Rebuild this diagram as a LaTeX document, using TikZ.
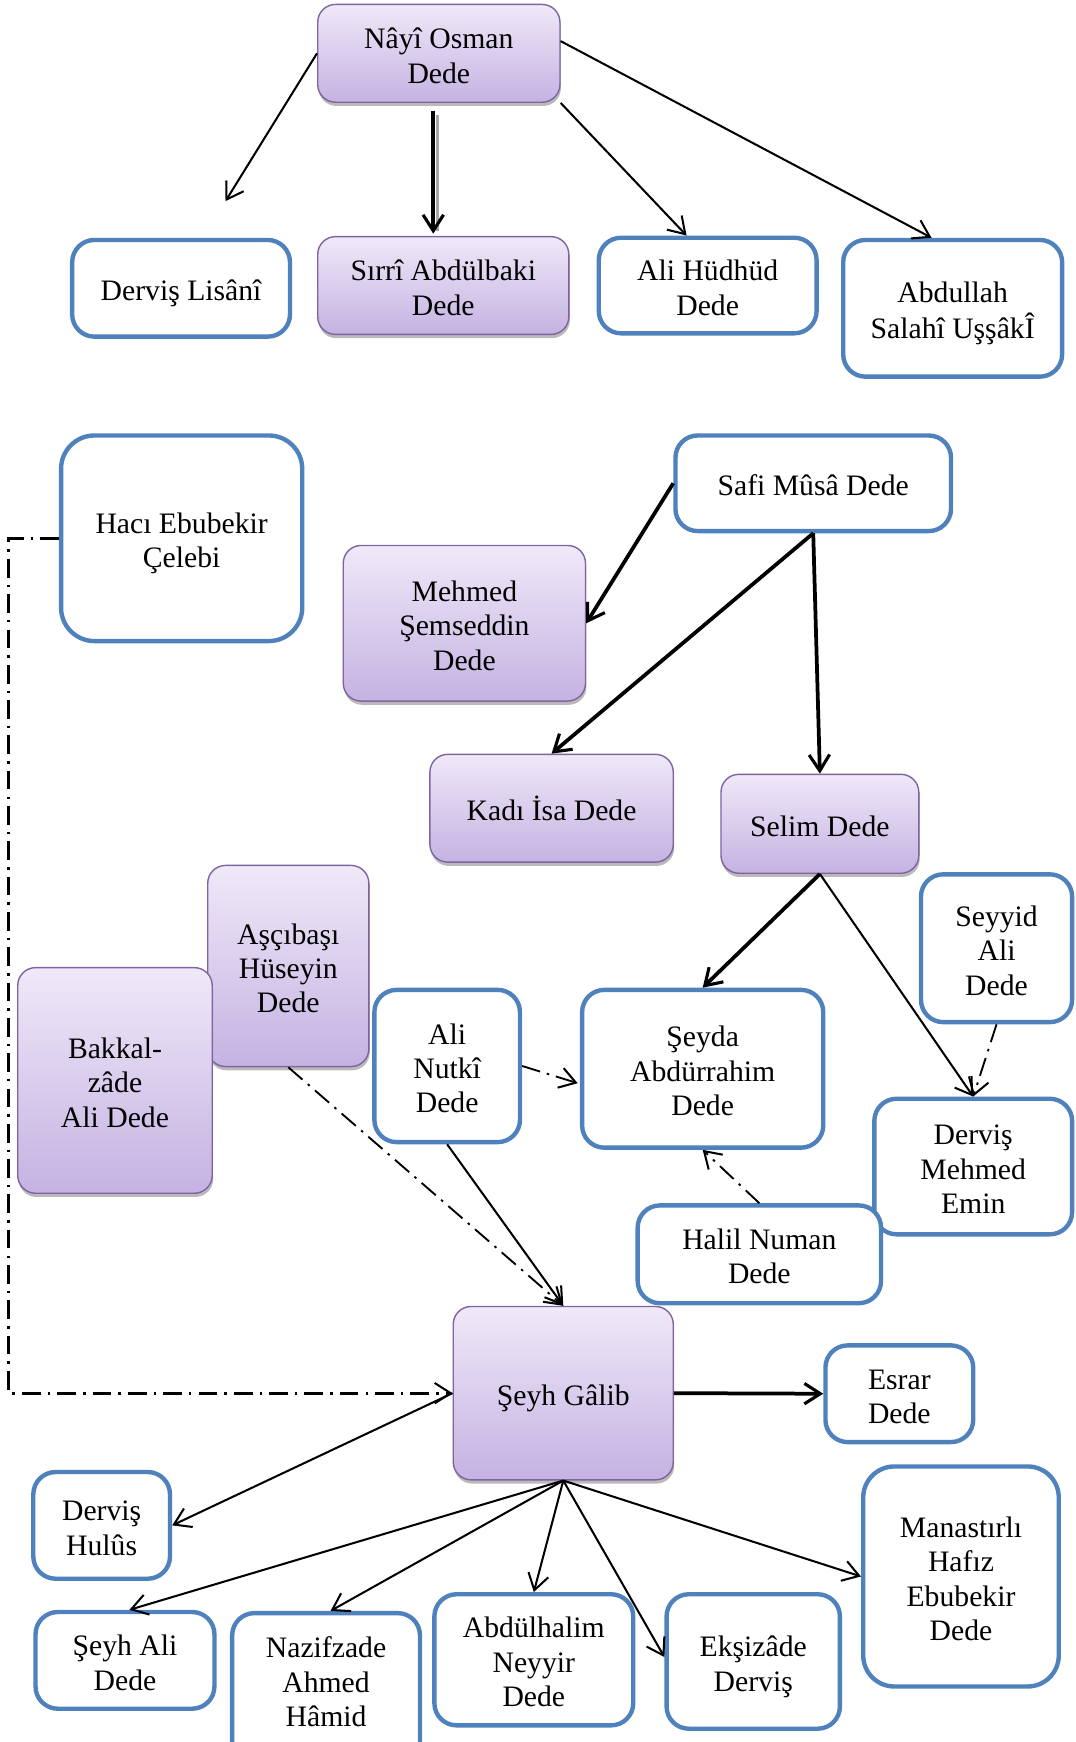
\documentclass[tikz,border=0pt]{standalone}
\usepackage{fontspec}
\setmainfont{Liberation Serif}
\usetikzlibrary{arrows.meta,calc,shadows}
\definecolor{bblue}{HTML}{4F81BD}
\definecolor{ptop}{HTML}{EFE9F8}
\definecolor{pbot}{HTML}{C5B2E2}
\definecolor{pline}{HTML}{8064A2}
\newcommand{\tx}[1]{\raisebox{-3.6pt}[\height][\depth]{\begin{tabular}{@{}c@{}}#1\end{tabular}}}
\tikzset{
  txt/.style={font=\fontsize{19}{22}\selectfont,inner sep=0pt},
  bbox/.style={txt,draw=bblue,line width=2.8pt,rounded corners=0.5cm,fill=white},
  pbox/.style={txt,draw=pline,line width=0.9pt,rounded corners=0.4cm,top color=ptop,bottom color=pbot,
    drop shadow={shadow xshift=0.6pt,shadow yshift=-2.4pt,fill=black!45,opacity=0.6}},
  arr/.style={line width=1.3pt,-{Straight Barb[length=3.6mm,width=4.6mm,line width=1.3pt]}},
  tarr/.style={line width=2.4pt,-{Straight Barb[length=3.6mm,width=4.6mm,line width=2pt]}},
  dd/.style={arr,line width=1.2pt,dash pattern=on 12pt off 4.5pt on 1.6pt off 4.5pt},
  ddk/.style={dd,line width=1.8pt},
}
\begin{document}
\begin{tikzpicture}[x=0.025cm,y=-0.025cm]
\useasboundingbox (0,0) rectangle (968,1568);
% top
\node[pbox,minimum width=5.45cm,minimum height=2.2cm] (nayi) at (395,48) {\tx{Nâyî Osman\\Dede}};
\node[bbox,minimum width=4.9cm,minimum height=2.175cm] (dl) at (163,259.5) {\tx{Derviş Lisânî}};
\node[pbox,minimum width=5.65cm,minimum height=2.2cm] (sirri) at (399,257) {\tx{Sırrî Abdülbaki\\Dede}};
\node[bbox,minimum width=4.9cm,minimum height=2.15cm] (hud) at (637,257) {\tx{Ali Hüdhüd\\Dede}};
\node[bbox,minimum width=4.925cm,minimum height=3.075cm] (abd) at (857.5,277.5) {\tx{Abdullah\\Salahî UşşâkÎ}};
\coordinate (free) at (203,181);
% middle
\node[bbox,rounded corners=0.75cm,minimum width=5.425cm,minimum height=4.625cm] (haci) at (163.5,484.5) {\tx{Hacı Ebubekir\\Çelebi}};
\node[bbox,minimum width=6.2cm,minimum height=2.15cm] (safi) at (732,435) {\tx{Safi Mûsâ Dede}};
\node[pbox,minimum width=5.45cm,minimum height=3.5cm] (mehmed) at (418,561) {\tx{Mehmed\\Şemseddin\\Dede}};
\node[pbox,minimum width=5.475cm,minimum height=2.425cm] (kadi) at (496.5,727.5) {\tx{Kadı İsa Dede}};
\node[pbox,minimum width=4.45cm,minimum height=2.225cm] (selim) at (738,741.5) {\tx{Selim Dede}};
\node[pbox,minimum width=3.625cm,minimum height=4.525cm] (asci) at (259.5,869.5) {\tx{Aşçıbaşı\\Hüseyin\\Dede}};
\node[pbox,minimum width=4.375cm,minimum height=5.075cm] (bakkal) at (103.5,972.5) {\tx{Bakkal-\\zâde\\Ali Dede}};
\node[bbox,minimum width=3.275cm,minimum height=3.425cm] (nutki) at (402.5,959.5) {\tx{Ali\\Nutkî\\Dede}};
\node[bbox,minimum width=5.425cm,minimum height=3.55cm] (seyda) at (632.5,962) {\tx{Şeyda\\Abdürrahim\\Dede}};
\node[bbox,minimum width=3.4cm,minimum height=3.325cm] (seyyid) at (897,853.5) {\tx{Seyyid\\Ali\\Dede}};
\node[bbox,minimum width=4.45cm,minimum height=3.05cm] (emin) at (876,1050) {\tx{Derviş\\Mehmed\\Emin}};
\node[bbox,minimum width=5.475cm,minimum height=2.2cm] (halil) at (683.5,1129) {\tx{Halil Numan\\Dede}};
% bottom
\node[pbox,minimum width=4.95cm,minimum height=3.9cm] (galib) at (507,1254) {\tx{Şeyh Gâlib}};
\node[bbox,minimum width=3.325cm,minimum height=2.175cm] (esrar) at (809.5,1254.5) {\tx{Esrar\\Dede}};
\node[bbox,minimum width=3.075cm,minimum height=2.4cm] (hulus) at (91.5,1373) {\tx{Derviş\\Hulûs}};
\node[bbox,rounded corners=0.7cm,minimum width=4.4cm,minimum height=4.95cm] (manas) at (865,1419) {\tx{Manastırlı\\Hafız\\Ebubekir\\Dede}};
\node[bbox,minimum width=4.025cm,minimum height=2.175cm] (seyhali) at (112.5,1494.5) {\tx{Şeyh Ali\\Dede}};
\node[bbox,minimum width=4.225cm,minimum height=3.6cm,
  label={[txt,yshift=0.3cm]center:{\tx{Nazifzade\\Ahmed\\Hâmid}}}] (nazif) at (293.5,1524) {};
\node[bbox,minimum width=4.475cm,minimum height=2.95cm] (halim) at (480.5,1494) {\tx{Abdülhalim\\Neyyir\\Dede}};
\node[bbox,minimum width=3.9cm,minimum height=3.025cm] (eksi) at (678,1495.5) {\tx{Ekşizâde\\Derviş}};
% connectors top
\draw[arr] (nayi.west) -- (free);
\draw[line width=2pt,black!35] ($(nayi.south)+(-1,11)$) -- ($(sirri.north)+(-5,-4)$);
\draw[tarr] ($(nayi.south)+(-5,7)$) -- ($(sirri.north)+(-9,-2)$);
\draw[arr] (nayi.south east) -- ($(hud.north)+(-19,0)$);
\draw[arr] ($(nayi.east)+(0,-11)$) -- ($(abd.north)+(-19,0)$);
% middle
\draw[tarr] (safi.west) -- (mehmed.east);
\draw[tarr] (safi.south) -- (kadi.north);
\draw[tarr] (safi.south) -- (selim.north);
\draw[tarr] (selim.south) -- (seyda.north);
\draw[arr] (selim.south) -- (emin.north);
\draw[dd] (seyyid.south) -- (emin.north);
\draw[dd] (nutki.east) -- ($(seyda.west)+(-2,13)$);
\draw[dd] (halil.north) -- (seyda.south);
\draw[dd] (asci.south) -- (galib.north);
\draw[arr] (nutki.south) -- (galib.north);
\draw[ddk] (haci.west) -- ++(-45,0) |- (galib.west);
% bottom
\draw[tarr] (galib.east) -- (esrar.west);
\draw[arr] (galib.west) -- (hulus.east);
\draw[arr] (galib.south) -- ($(seyhali.north)+(4,0)$);
\draw[arr] (galib.south) -- ($(nazif.north)+(4,0)$);
\draw[arr] (galib.south) -- (halim.north);
\draw[arr] (galib.south) -- ($(eksi.west)+(0,-4)$);
\draw[arr] (galib.south) -- (manas.west);
\end{tikzpicture}
\end{document}
